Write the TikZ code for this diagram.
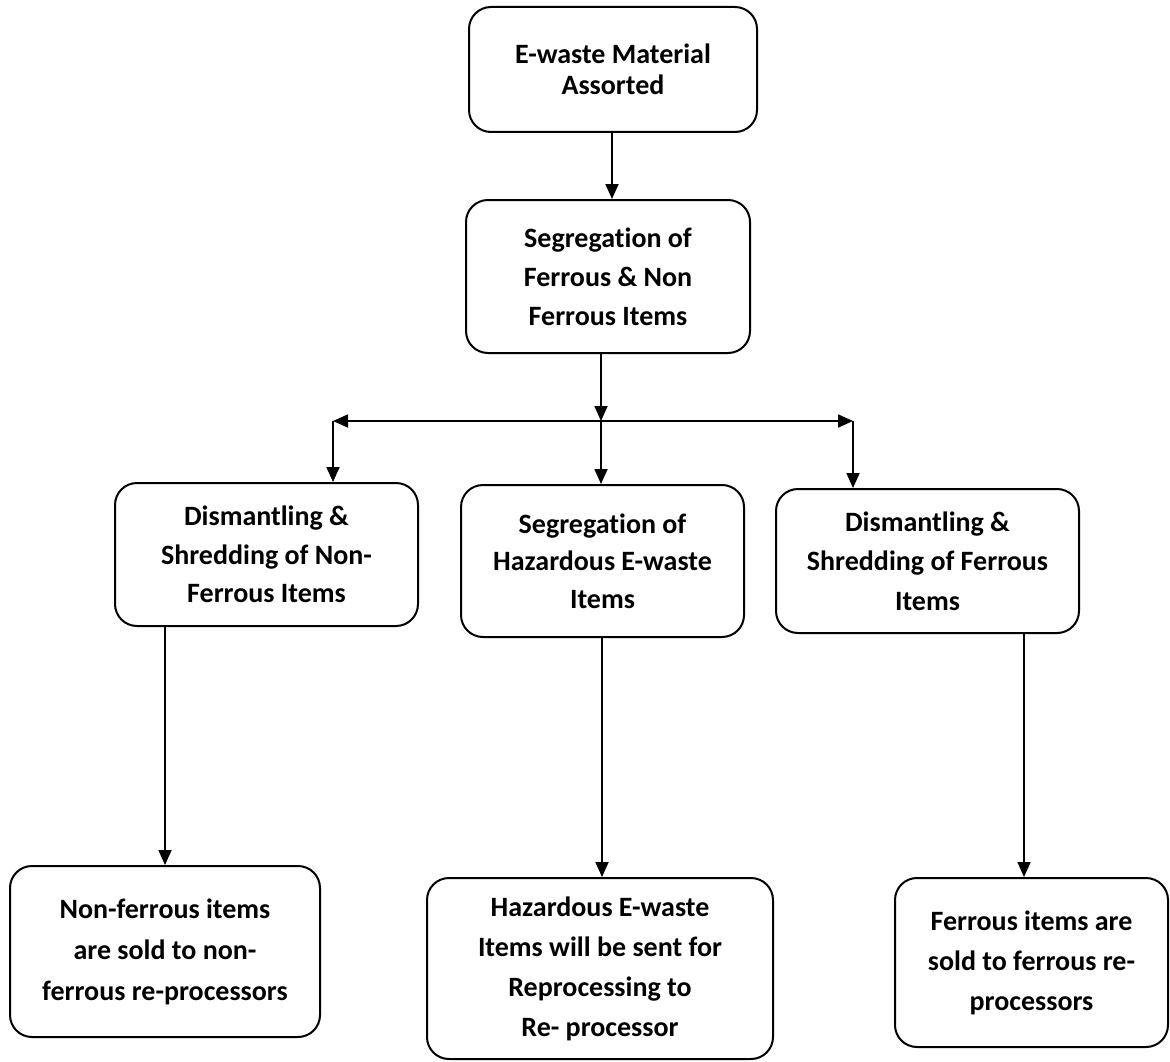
\documentclass[tikz,border=0pt]{standalone}
\usepackage{fontspec}
\setmainfont{Carlito}[Ligatures=NoCommon]
\usetikzlibrary{arrows.meta}
\begin{document}
\begin{tikzpicture}[x=1pt,y=-1pt,
  box/.style={draw=black, line width=2pt, rounded corners=22pt, inner sep=0pt, align=center, font=\fontsize{28}{39}\selectfont\bfseries},
  arr/.style={draw=black, line width=1.8pt, -{Triangle[length=15pt,width=13pt]}},
  ln/.style={draw=black, line width=1.8pt}]
\useasboundingbox (0,0) rectangle (1170,1062);
\fill[white] (0,0) rectangle (1170,1062);
% nodes
\node[box, minimum width=288pt, minimum height=125pt, font=\fontsize{28}{31}\selectfont\bfseries] (n1) at (613,69.5) {E-waste Material\\Assorted};
\node[box, minimum width=284pt, minimum height=153pt] (n2) at (608,276.5) {Segregation of\\Ferrous \& Non\\Ferrous Items};
\node[box, minimum width=303pt, minimum height=143pt, font=\fontsize{28}{38.5}\selectfont\bfseries] (n3) at (266.5,554.5) {Dismantling \&\\Shredding of Non-\\Ferrous Items};
\node[box, minimum width=283pt, minimum height=152pt, font=\fontsize{28}{37.5}\selectfont\bfseries] (n4) at (602.5,561) {Segregation of\\Hazardous E-waste\\Items};
\node[box, minimum width=303pt, minimum height=144pt, font=\fontsize{28}{39.5}\selectfont\bfseries] (n5) at (927.5,561) {Dismantling \&\\Shredding of Ferrous\\Items};
\node[box, minimum width=310pt, minimum height=171pt, font=\fontsize{28}{41}\selectfont\bfseries] (n6) at (165,951.5) {Non-ferrous items\\are sold to non-\\ferrous re-processors};
\node[box, minimum width=346pt, minimum height=181pt, font=\fontsize{28}{40}\selectfont\bfseries] (n7) at (600,968.5) {Hazardous E-waste\\Items will be sent for\\Reprocessing to\\Re- processor};
\node[box, minimum width=273pt, minimum height=169pt, font=\fontsize{28}{40}\selectfont\bfseries] (n8) at (1031.5,962.5) {Ferrous items are\\sold to ferrous re-\\processors};
% helper coordinates
\coordinate (c1) at (612,0);
\coordinate (J) at (601,421);
\coordinate (JL) at (333,421);
\coordinate (JR) at (853,421);
\coordinate (c3) at (165,0);
\coordinate (c4) at (602,0);
\coordinate (c5) at (1024,0);
% connectors
\draw[arr] (n1.south -| c1) -- (n2.north -| c1);
\draw[arr] (n2.south -| J) -- (J);
\draw[arr] (J) -- (JL);
\draw[arr] (J) -- (JR);
\draw[arr] (JL) -- (n3.north -| JL);
\draw[arr] (J) -- (n4.north -| J);
\draw[arr] (JR) -- (n5.north -| JR);
\draw[arr] (n3.south -| c3) -- (n6.north -| c3);
\draw[arr] (n4.south -| c4) -- (n7.north -| c4);
\draw[arr] (n5.south -| c5) -- (n8.north -| c5);
\end{tikzpicture}
\end{document}
